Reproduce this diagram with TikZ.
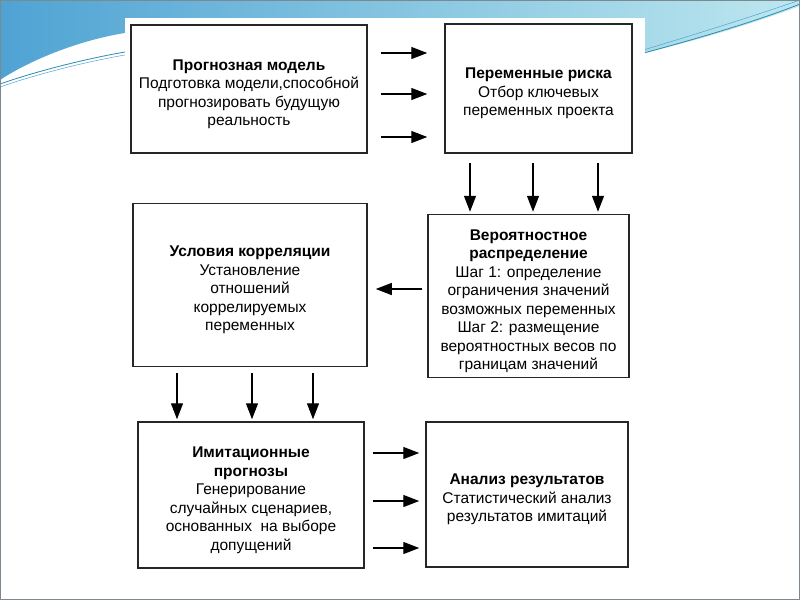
\documentclass[tikz,border=0pt]{standalone}
\usepackage{fontspec}
\setmainfont{Liberation Sans}
\usetikzlibrary{arrows.meta,positioning,calc}
\definecolor{swdark}{HTML}{4FA3D3}
\definecolor{swmid}{HTML}{8ED3E4}
\definecolor{swlight}{HTML}{BDE7EF}
\definecolor{swline}{HTML}{2B8DB0}
\definecolor{slideframe}{HTML}{7A8A90}
\newcommand{\topgap}{\rule{0pt}{21pt}}

\begin{document}
\begin{tikzpicture}[x=1pt, y=-1pt, >={Triangle[length=16pt,width=12pt]},
  stage/.style={draw=black!85, line width=1.5pt, fill=white, align=center, inner sep=2pt,
                font=\fontsize{15.5}{18.5}\selectfont},
  flow/.style={->, line width=1.3pt, black}]
  \useasboundingbox (0,0) rectangle (800,600);
  % slide background
  \fill[white] (0,0) rectangle (800,600);
  \shade[left color=swdark, middle color=swmid, right color=swlight]
    (0,0) -- (800,0) -- (800,6) .. controls (740,28) and (690,42) .. (640,54)
    -- (125,54) -- (125,33) .. controls (80,40) and (30,60) .. (0,80) -- cycle;
  \draw[swline, line width=0.8pt] (0,84) .. controls (40,70) and (90,58) .. (125,52);
  \draw[swdark, line width=0.5pt] (0,87) .. controls (40,73) and (90,61) .. (125,55);
  \draw[swline, line width=0.8pt] (640,54) .. controls (700,38) and (760,20) .. (800,4);
  \draw[swdark, line width=0.5pt] (640,51) .. controls (700,33) and (760,14) .. (800,0);
  \fill[white] (125,18) rectangle (645,578);
  \draw[slideframe] (0.5,0.5) rectangle (799.5,599.5);

  % stages
  \node[stage, minimum width=236pt, minimum height=128pt] (model) at (249,89)
    {\topgap\textbf{Прогнозная модель}\\Подготовка модели,способной\\прогнозировать будущую\\реальность};
  \node[stage, minimum width=187pt, minimum height=129pt] (risk) at (538.5,88.5)
    {\topgap\textbf{Переменные риска}\\Отбор ключевых\\переменных проекта};
  \node[stage, minimum width=234pt, minimum height=163pt] (corr) at (250,285)
    {\topgap\textbf{Условия корреляции}\\Установление\\отношений\\коррелируемых\\переменных};
  \node[stage, minimum width=201pt, minimum height=163pt] (dist) at (528.5,296)
    {\topgap\textbf{Вероятностное}\\\textbf{распределение}\\Шаг 1: определение\\ограничения значений\\возможных переменных\\Шаг 2: размещение\\вероятностных весов по\\границам значений};
  \node[stage, minimum width=226pt, minimum height=146pt] (sim) at (251,495)
    {\topgap\textbf{Имитационные}\\\textbf{прогнозы}\\Генерирование\\случайных сценариев,\\основанных\ \ на выборе\\допущений};
  \node[stage, minimum width=202pt, minimum height=145pt] (res) at (527,494.5)
    {\topgap\textbf{Анализ результатов}\\Статистический анализ\\результатов имитаций};

  % arrows
  \foreach \y in {53,94,137}
    \draw[flow, shorten <=13pt, shorten >=17pt] (model.east |- 0,\y) -- (risk.west |- 0,\y);
  \foreach \x in {470,533,598}
    \draw[flow, shorten <=9pt, shorten >=2pt] (\x,0 |- risk.south) -- (\x,0 |- dist.north);
  \draw[flow, shorten <=5pt, shorten >=8pt] (dist.west |- 0,289) -- (corr.east |- 0,289);
  \foreach \x in {177,252,313}
    \draw[flow, shorten <=6pt, shorten >=2pt] (\x,0 |- corr.south) -- (\x,0 |- sim.north);
  \foreach \y in {453,501,548}
    \draw[flow, shorten <=8pt, shorten >=6pt] (sim.east |- 0,\y) -- (res.west |- 0,\y);
\end{tikzpicture}
\end{document}
